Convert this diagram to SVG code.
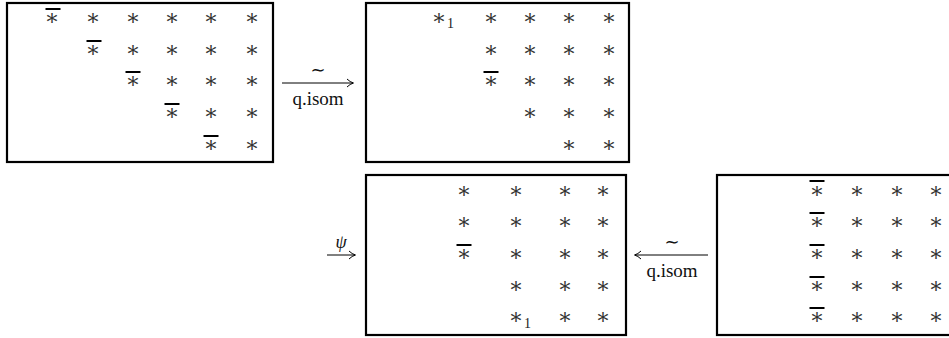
<svg xmlns="http://www.w3.org/2000/svg" width="949" height="338" viewBox="0 0 949 338">
<style>
.box{fill:#fff;stroke:#000;stroke-width:2.2}
.s text{font-family:"DejaVu Serif","Liberation Serif",serif;font-size:22px;text-anchor:middle;fill:#333}
.sub{font-family:"Liberation Serif","DejaVu Serif",serif;font-size:14px;fill:#222}
.bar{fill:#000}
.lbl{font-family:"Liberation Serif","DejaVu Serif",serif;font-size:19px;text-anchor:middle;fill:#111}
.til{font-family:"DejaVu Sans",sans-serif;font-size:18px;text-anchor:middle;fill:#111}
.psi{font-family:"Liberation Serif","DejaVu Serif",serif;font-size:18px;font-style:italic;text-anchor:middle;fill:#111}
.ln{stroke:#000;stroke-width:1;fill:none}
</style>
<defs>
<path id="bar" d="M-7.5,-1 h15 v2 h-15z"/>
</defs>
<rect width="949" height="338" fill="#fff"/>

<g id="box1">
<rect class="box" x="7" y="3" width="266" height="159"/>
<g class="s">
<text x="52" y="25">∗</text><text x="93" y="25">∗</text><text x="133" y="25">∗</text><text x="172" y="25">∗</text><text x="211" y="25">∗</text><text x="252" y="25">∗</text>
<text x="93" y="57">∗</text><text x="133" y="57">∗</text><text x="172" y="57">∗</text><text x="211" y="57">∗</text><text x="252" y="57">∗</text>
<text x="133" y="88">∗</text><text x="172" y="88">∗</text><text x="211" y="88">∗</text><text x="252" y="88">∗</text>
<text x="172" y="120">∗</text><text x="211" y="120">∗</text><text x="252" y="120">∗</text>
<text x="211" y="152">∗</text><text x="252" y="152">∗</text>
</g>
<use href="#bar" class="bar" x="53" y="9"/>
<use href="#bar" class="bar" x="94" y="41"/>
<use href="#bar" class="bar" x="133" y="72"/>
<use href="#bar" class="bar" x="172" y="104"/>
<use href="#bar" class="bar" x="211" y="136"/>
</g>

<g id="box2">
<rect class="box" x="366" y="3" width="263" height="159"/>
<g class="s">
<text x="439" y="25">∗</text><text x="491" y="25">∗</text><text x="530" y="25">∗</text><text x="569" y="25">∗</text><text x="609" y="25">∗</text>
<text x="491" y="57">∗</text><text x="530" y="57">∗</text><text x="569" y="57">∗</text><text x="609" y="57">∗</text>
<text x="491" y="88">∗</text><text x="530" y="88">∗</text><text x="569" y="88">∗</text><text x="609" y="88">∗</text>
<text x="530" y="120">∗</text><text x="569" y="120">∗</text><text x="609" y="120">∗</text>
<text x="569" y="152">∗</text><text x="609" y="152">∗</text>
</g>
<text class="sub" x="447" y="28">1</text>
<use href="#bar" class="bar" x="491" y="72"/>
</g>

<g id="box3">
<rect class="box" x="366" y="175" width="260" height="160"/>
<g class="s">
<text x="464" y="198">∗</text><text x="516" y="198">∗</text><text x="565" y="198">∗</text><text x="603" y="198">∗</text>
<text x="464" y="229">∗</text><text x="516" y="229">∗</text><text x="565" y="229">∗</text><text x="603" y="229">∗</text>
<text x="464" y="261">∗</text><text x="516" y="261">∗</text><text x="565" y="261">∗</text><text x="603" y="261">∗</text>
<text x="516" y="293">∗</text><text x="565" y="293">∗</text><text x="603" y="293">∗</text>
<text x="516" y="324">∗</text><text x="565" y="324">∗</text><text x="603" y="324">∗</text>
</g>
<text class="sub" x="524" y="328">1</text>
<use href="#bar" class="bar" x="464" y="245"/>
</g>

<g id="box4">
<rect class="box" x="717" y="175" width="245" height="160"/>
<g class="s">
<text x="817" y="198">∗</text><text x="857" y="198">∗</text><text x="897" y="198">∗</text><text x="936" y="198">∗</text>
<text x="817" y="229">∗</text><text x="857" y="229">∗</text><text x="897" y="229">∗</text><text x="936" y="229">∗</text>
<text x="817" y="261">∗</text><text x="857" y="261">∗</text><text x="897" y="261">∗</text><text x="936" y="261">∗</text>
<text x="817" y="293">∗</text><text x="857" y="293">∗</text><text x="897" y="293">∗</text><text x="936" y="293">∗</text>
<text x="817" y="324">∗</text><text x="857" y="324">∗</text><text x="897" y="324">∗</text><text x="936" y="324">∗</text>
</g>
<use href="#bar" class="bar" x="817" y="181"/>
<use href="#bar" class="bar" x="817" y="213"/>
<use href="#bar" class="bar" x="817" y="245"/>
<use href="#bar" class="bar" x="817" y="277"/>
<use href="#bar" class="bar" x="817" y="308"/>
</g>

<g id="connectors">
<path class="ln" d="M282,83 H353 M347,79 Q350,82 353.5,83 Q350,84 347,87"/>
<text class="til" x="318" y="76">∼</text>
<text class="lbl" x="318" y="105">q.isom</text>

<path class="ln" d="M327,255 H355 M349,251 Q352,254 355.5,255 Q352,256 349,259"/>
<text class="psi" x="341" y="248">ψ</text>

<path class="ln" d="M635,255 H708 M641,251 Q638,254 634.5,255 Q638,256 641,259"/>
<text class="til" x="672" y="248">∼</text>
<text class="lbl" x="672" y="277">q.isom</text>
</g>
</svg>
